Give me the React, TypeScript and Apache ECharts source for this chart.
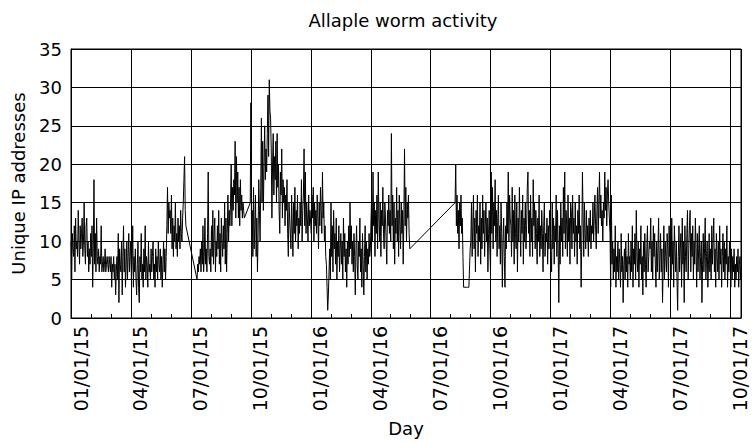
import React, { useEffect, useRef } from "react";
import * as echarts from "echarts";

// Daily unique IP counts, one array per month (or partial month).
const jan15 = [10,5,11,9,8,12,6,13,9,10, 8,14,10,7,12,9,11,13,8,10, 15,9,7,12,13,8,10,6,9,7,11];
const feb15 = [8,12,4,9,18,7,11,6,13,8, 7,9,6,8,7,12,6,7,8,6, 7,9,6,7,8,7,6,8];
const mar15 = [7,6,8,4,7,6,8,5,7,3, 6,8,5,11,2,9,7,6,10,3, 8,12,6,9,4,7,10,5,8,11,6];
const apr15 = [6,10,5,7,12,4,8,6,9,5, 3,7,10,4,2,8,6,11,5,7, 4,9,6,12,5,8,7,4,10,6];
const may15 = [7,5,9,6,8,10,5,7,4,9, 6,8,5,10,7,6,9,5,8,4, 7,10,6,9,5,8,12,17,11,15,13];
const jun15 = [14,11,16,9,13,8,12,10,15,9, 11,8,13,10,12,9,14,11,10,13, 15,18,21,14,12,12];
const jul15 = [5,7,6,8,7,9,6,10,7,12, 6,8,13,7,9,6,11,19,8,7];
const aug15 = [9,6,12,8,14,7,11,13,6,10, 8,12,9,14,7,11,6,13,10,8, 12,9,15,7,13,6,11,16,10,14,12];
const sep15 = [15,20,12,17,14,18,16,23,13,21, 15,19,13,17,12,18,14,16,13,15, 14,13];
const oct15 = [15,28,10,14,8,17,9,12,16,8, 13,6,11,18,14,10,17,26,15,23, 14,20,25,18,22,19,24,29,21,31,27];
const nov15 = [26,22,13,20,24,16,21,18,23,15, 24,17,20,14,11,19,16,22,13,18, 15,17,12,16,14,18,11,8,15,13];
const dec15 = [13,9,16,12,8,15,11,17,10,14, 12,16,9,13,11,15,12,18,10,14, 16,22,12,19,11,15,13,10,16,12,14];
const jan16 = [14,11,16,13,17,10,15,12,14,11, 16,13,9,15,12,17,14,11,19,13, 15,10,12,8,7,4,1,3,6,9,5];
const feb16 = [15,8,12,6,14,9,11,7,13,5, 10,8,12,6,9,11,7,10,5,13, 8,11,6,9,4,10,7,12,8];
const mar16 = [15,9,12,7,10,6,11,8,3,9, 12,7,5,10,8,13,6,9,4,11, 7,3,8,12,6,10,5,9,7,11,8];
const apr16 = [9,13,16,10,19,12,15,8,14,11, 16,9,19,13,10,15,8,14,12,17, 11,9,15,13,10,7,14,12,16,11];
const may16 = [14,10,24,12,16,9,15,7,13,11, 17,10,14,8,16,12,9,15,11,14, 7,13,22,12,17,10,15,13,16,11,9];
const aug16 = [15,20,12,16,11,14,9,15,12,16, 11,13,8,4,4,4,4,4,4,4, 4,4,4,9];
const sep16 = [10,15,8,12,16,9,13,6,14,11, 16,8,12,10,15,7,13,9,16,11, 14,8,12,15,10,13,6,11,14,9];
const oct16 = [6,19,11,17,9,15,12,18,10,14, 8,13,16,9,12,7,15,11,4,10, 13,8,4,12,9,15,11,19,10,16,13];
const nov16 = [12,8,17,10,14,7,16,11,9,15, 6,13,10,17,12,8,14,11,16,7, 13,10,15,9,12,17,19,11,14,8];
const dec16 = [16,10,13,8,18,12,15,9,14,11, 7,13,10,16,8,12,9,14,11,6, 12,15,8,11,10,13,7,12,9,14,11];
const jan17 = [11,6,15,9,13,7,12,10,16,8, 14,9,2,12,7,15,10,13,8,17, 11,19,9,14,12,8,16,10,13,7,15];
const feb17 = [14,9,16,11,13,8,15,10,12,7, 14,11,16,9,12,4,10,19,13,8, 15,11,9,14,10,12,8,13];
const mar17 = [10,14,9,12,11,15,10,13,16,12, 9,14,17,11,15,19,13,16,12,14, 10,15,13,19,14,17,12,16,18,15,13];
const apr17 = [11,4,16,7,10,5,9,6,12,4, 8,6,10,5,9,7,4,11,6,8, 2,7,9,5,10,6,8,4,11,7];
const may17 = [8,5,10,6,12,4,9,7,11,5, 14,8,6,10,4,9,7,12,5,8, 3,10,6,11,7,4,9,12,6,8,10];
const jun17 = [9,13,6,10,5,12,8,11,7,4, 10,6,9,13,5,8,11,6,9,2, 7,12,5,10,8,6,11,9,4,12];
const jul17 = [8,11,5,13,7,10,4,12,9,6, 10,5,1,8,12,6,9,11,4,13, 7,10,2,12,8,6,11,14,5,9,12];
const aug17 = [14,6,11,8,12,5,10,7,13,9, 4,11,6,9,12,5,8,10,2,7, 11,6,9,13,5,8,10,4,7,11,6];
const sep17 = [9,5,12,7,10,13,6,9,4,11, 8,6,10,5,12,7,9,4,8,11, 6,10,5,9,7,12,4,8,6,10];
const oct17 = [7,4,9,5,8,6,9,4,7,5, 8,6,9,4,7,8,5];

// First day of each run of daily values (gaps in the record are simply skipped)
const segmentStarts = [
  "2015-01-01","2015-02-01","2015-03-01","2015-04-01","2015-05-01","2015-06-01",
  "2015-07-12","2015-08-01","2015-09-01","2015-10-01","2015-11-01","2015-12-01",
  "2016-01-01","2016-02-01","2016-03-01","2016-04-01","2016-05-01",
  "2016-08-08","2016-09-01","2016-10-01","2016-11-01","2016-12-01",
  "2017-01-01","2017-02-01","2017-03-01","2017-04-01","2017-05-01","2017-06-01",
  "2017-07-01","2017-08-01","2017-09-01","2017-10-01",
];
const segmentValues = [
  jan15,feb15,mar15,apr15,may15,jun15,jul15,aug15,sep15,oct15,nov15,dec15,
  jan16,feb16,mar16,apr16,may16,aug16,sep16,oct16,nov16,dec16,
  jan17,feb17,mar17,apr17,may17,jun17,jul17,aug17,sep17,oct17,
];

const yTicks = [0, 5, 10, 15, 20, 25, 30, 35];

const BASE = Date.UTC(2015, 0, 1);
const DAY = 86400000;
function dayIndex(s: string): number {
  const [y, m, d] = s.split("-").map(Number);
  return Math.round((Date.UTC(y, m - 1, d) - BASE) / DAY);
}
const pad = (n: number) => (n < 10 ? "0" + n : "" + n);
function quarterLabel(v: number): string {
  const d = new Date(BASE + Math.round(v) * DAY);
  let y = d.getUTCFullYear();
  let m = d.getUTCMonth();
  if (d.getUTCDate() > 15) {
    m += 1;
    if (m > 11) { m = 0; y += 1; }
  }
  return `${pad(m + 1)}/01/${String(y).slice(2)}`;
}

const FONT = "DejaVu Sans";

export default function App() {
  const ref = useRef<HTMLDivElement>(null);
  useEffect(() => {
    document.body.style.margin = "0";
    if (!ref.current) return;
    const chart = echarts.init(ref.current, undefined, { renderer: "svg" });
    const data: [number, number][] = [];
    segmentStarts.forEach((s, i) => {
      const d0 = dayIndex(s);
      segmentValues[i].forEach((v, j) => data.push([d0 + j, v]));
    });
    chart.setOption({
      animation: false,
      backgroundColor: "#fff",
      title: {
        text: "Allaple worm activity",
        left: 398,
        top: 6,
        textAlign: "center",
        textStyle: { fontFamily: FONT, fontSize: 18, fontWeight: "normal", color: "#000" },
      },
      grid: {
        left: 71, top: 49, width: 670, height: 269,
        outerBoundsMode: "none",
        containLabel: false,
        show: true, borderColor: "#000", borderWidth: 1, backgroundColor: "transparent",
      },
      xAxis: {
        type: "value",
        min: 0,
        max: 1020.5,
        interval: 91.3125,
        name: "Day",
        nameLocation: "middle",
        nameGap: 101,
        nameTextStyle: { fontFamily: FONT, fontSize: 18, color: "#000" },
        axisLine: { show: true, lineStyle: { color: "#000", width: 1 } },
        axisTick: { show: true, inside: true, length: 4, lineStyle: { color: "#000" } },
        minorTick: { show: true, splitNumber: 3, length: 4, lineStyle: { color: "#000" } },
        splitLine: { show: true, lineStyle: { color: "#000", width: 1 } },
        axisLabel: {
          rotate: 90,
          margin: 8,
          showMaxLabel: false,
          showMinLabel: true,
          verticalAlign: "top",
          lineHeight: 19,
          fontFamily: FONT,
          fontSize: 19,
          color: "#000",
          formatter: (v: number) => quarterLabel(v),
        },
      },
      yAxis: {
        type: "value",
        min: yTicks[0],
        max: yTicks[yTicks.length - 1],
        interval: yTicks[1] - yTicks[0],
        name: "Unique IP addresses",
        nameLocation: "middle",
        nameGap: 44,
        nameTextStyle: { fontFamily: FONT, fontSize: 18, color: "#000" },
        axisLine: { show: true, lineStyle: { color: "#000", width: 1 } },
        axisTick: { show: false },
        splitLine: { show: true, lineStyle: { color: "#000", width: 1 } },
        axisLabel: { margin: 9, fontFamily: FONT, fontSize: 18, color: "#000" },
      },
      series: [
        {
          type: "line",
          data,
          showSymbol: false,
          symbol: "none",
          lineStyle: { color: "#000", width: 1 },
          emphasis: { disabled: true },
        },
      ],
    });
    return () => chart.dispose();
  }, []);
  return <div ref={ref} style={{ width: 753, height: 443 }} />;
}
